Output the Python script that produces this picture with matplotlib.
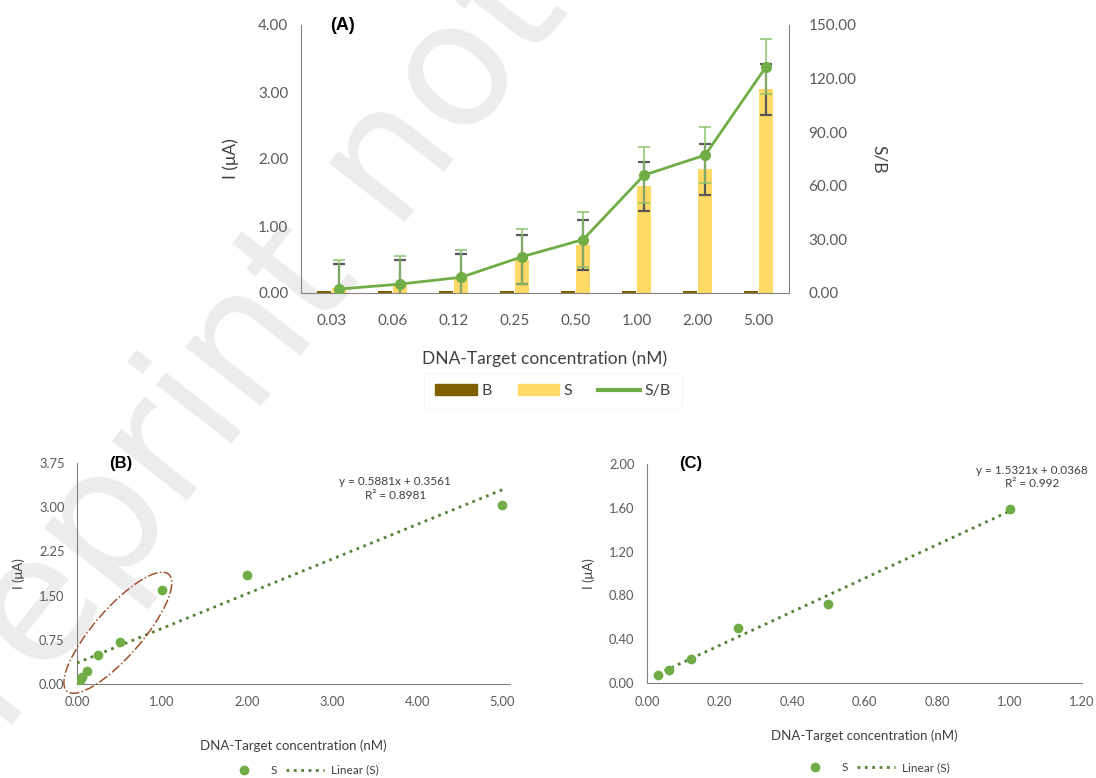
import matplotlib
matplotlib.use('Agg')
import matplotlib.pyplot as plt
import numpy as np
from matplotlib.patches import Ellipse, Patch
from matplotlib.lines import Line2D
from matplotlib.transforms import ScaledTranslation

plt.rcParams['font.family'] = ['Lato', 'DejaVu Sans']

# data
conc_labels = ['0.03', '0.06', '0.12', '0.25', '0.50', '1.00', '2.00', '5.00']
conc = [0.03, 0.06, 0.12, 0.25, 0.50, 1.00, 2.00, 5.00]
blank = [0.024, 0.024, 0.024, 0.024, 0.024, 0.024, 0.024, 0.024]
signal = [0.07, 0.12, 0.22, 0.50, 0.72, 1.59, 1.85, 3.04]
signal_err = [0.37, 0.37, 0.36, 0.37, 0.37, 0.37, 0.38, 0.38]
ratio = [2.2, 5.0, 8.8, 20.3, 29.9, 66.0, 77.2, 126.7]
ratio_err = [16.4, 15.5, 15.5, 15.5, 15.5, 15.6, 15.5, 15.5]

fit_all = (0.5881, 0.3561)
r2_all = 0.8981
fit_low = (1.5321, 0.0368)
r2_low = 0.992
n_low = 6  # points up to 1.00 nM used in (C)

C_B = '#7f6000'
C_S = '#ffd966'
C_SB = '#70ad47'
C_FIT = '#548235'
TICK = '#595959'
LAB = '#404040'
SPINE = '#808080'

fig = plt.figure(figsize=(10.96, 7.78), dpi=100)

# faint watermark behind everything
fig.text(-0.054, -0.05, 'Preprint not peer reviewed', fontsize=125,
         color='#ececec', rotation=52, rotation_mode='anchor',
         ha='left', va='baseline', family='DejaVu Sans', zorder=-5)


def style_axes(ax, fs, pad):
    ax.patch.set_alpha(0)
    for s in ['top', 'right']:
        ax.spines[s].set_visible(False)
    for s in ['left', 'bottom']:
        ax.spines[s].set_color(SPINE)
    ax.tick_params(length=0, labelsize=fs, labelcolor=TICK, pad=pad)


# ---------- (A) ----------
ax = fig.add_axes([301 / 1096, 1 - 293 / 778, 488 / 1096, 268 / 778])
style_axes(ax, 11, 9)
ax.tick_params(axis='x', pad=15)
xs = np.arange(len(conc_labels))
w = 0.23
off = 0.125
ax.bar(xs - off, blank, w, color=C_B, zorder=2)
ax.bar(xs + off, signal, w, color=C_S, zorder=2)
ax.errorbar(xs + off, signal, yerr=signal_err, fmt='none', ecolor='#595959',
            elinewidth=1.6, capsize=4, capthick=1.6, zorder=3)
ax.set_ylim(0, 4)
ax.set_yticks([0, 1, 2, 3, 4])
ax.set_yticklabels([f'{v:.2f}' for v in [0, 1, 2, 3, 4]])
ax.set_xlim(-0.5, len(xs) - 0.5)
ax.set_xticks(xs)
ax.set_xticklabels(conc_labels)
ax.set_ylabel('I (μA)', fontsize=12.5, color=LAB, labelpad=14)
ax.set_xlabel('DNA-Target concentration (nM)', fontsize=12.5, color=LAB, labelpad=16)

ax2 = ax.twinx()
ax2.patch.set_alpha(0)
for s in ['top', 'left', 'bottom']:
    ax2.spines[s].set_visible(False)
ax2.spines['right'].set_color(SPINE)
ax2.tick_params(length=0, labelsize=11, labelcolor=TICK, pad=14)
ax2.errorbar(xs + off, ratio, yerr=ratio_err, fmt='none', ecolor='#8cc46a',
             elinewidth=1.1, capsize=4, capthick=1.1, zorder=3)
ax2.plot(xs + off, ratio, color=C_SB, lw=2, marker='o', ms=7, zorder=4)
ax2.set_ylim(0, 150)
ax2.set_yticks([0, 30, 60, 90, 120, 150])
ax2.set_yticklabels([f'{v:.2f}' for v in [0, 30, 60, 90, 120, 150]])
ax2.set_ylabel('S/B', fontsize=12.5, color=LAB, rotation=270, labelpad=22)
ax2.set_xlim(-0.5, len(xs) - 0.5)

ax.text(0.086, 1.0, '(A)', transform=ax.transAxes, fontsize=13, fontweight='bold',
        family='Liberation Sans', ha='center', va='center')

handles = [Patch(color=C_B, label='B'), Patch(color=C_S, label='S'),
           Line2D([], [], color=C_SB, lw=3, label='S/B')]
leg = fig.legend(handles=handles, loc='center', bbox_to_anchor=(553 / 1096, 1 - 391 / 778),
                 ncol=3, fontsize=11.5, frameon=True, handlelength=2.6,
                 handletextpad=0.3, columnspacing=1.6, borderpad=0.7)
leg.get_frame().set_edgecolor('#f3f3f3')
leg.get_frame().set_linewidth(0.8)
for t in leg.get_texts():
    t.set_color(LAB)


# ---------- (B) and (C) ----------
def scatter_panel(rect, x, y, fit, r2, xlim, xticks, ylim, yticks, tag, eq_xy,
                  fit_from_zero, xlabelpad, leg_y):
    a = fig.add_axes(rect)
    style_axes(a, 9.3, 9)
    a.plot(x, y, 'o', color=C_SB, ms=6, zorder=4, label='S')
    x0 = 0 if fit_from_zero else min(x)
    fx = np.array([x0, max(x)])
    a.plot(fx, fit[0] * fx + fit[1], ':', color=C_FIT, lw=2, zorder=3, label='Linear (S)')
    a.set_xlim(*xlim)
    a.set_ylim(*ylim)
    a.set_xticks(xticks)
    a.set_xticklabels([f'{v:.2f}' for v in xticks])
    a.set_yticks(yticks)
    a.set_yticklabels([f'{v:.2f}' for v in yticks])
    a.set_ylabel('I (μA)', fontsize=9.5, color=LAB, labelpad=10)
    a.set_xlabel('DNA-Target concentration (nM)', fontsize=9.5, color=LAB,
                  labelpad=xlabelpad)
    a.text(0.10, 1.0, tag, transform=a.transAxes, fontsize=12, fontweight='bold',
           family='Liberation Sans', ha='center', va='center')
    a.text(eq_xy[0], eq_xy[1], f'y = {fit[0]:.4f}x + {fit[1]:.4f}\nR² = {r2:g}',
           transform=a.transAxes, fontsize=8.5, color=LAB, ha='center', va='top',
           linespacing=1.25)
    lg = a.legend(loc='center', bbox_to_anchor=(0.52, leg_y), ncol=2, fontsize=8.5,
                  frameon=False, handlelength=3.2, handletextpad=0.6, columnspacing=0.8)
    for t in lg.get_texts():
        t.set_color(LAB)
    return a


axB = scatter_panel([77 / 1096, 1 - 684 / 778, 433 / 1096, 221 / 778], conc, signal,
                    fit_all, r2_all, (0, 5.09), [0, 1, 2, 3, 4, 5], (0, 3.75),
                    [0, 0.75, 1.5, 2.25, 3.0, 3.75], '(B)', (0.735, 0.94), True,
                    22, -0.39)
axC = scatter_panel([647 / 1096, 1 - 683 / 778, 435 / 1096, 219 / 778], conc[:n_low],
                    signal[:n_low], fit_low, r2_low, (0, 1.2),
                    [0, 0.2, 0.4, 0.6, 0.8, 1.0, 1.2], (0, 2.0),
                    [0, 0.4, 0.8, 1.2, 1.6, 2.0], '(C)', (0.885, 0.995), False,
                    16, -0.385)

# dash-dot ellipse around the low-concentration points in (B)
ell = Ellipse((0, 0), 1.55, 0.48, angle=49, fill=False, ls='-.', lw=1.1,
              edgecolor='#a0522d', clip_on=False, zorder=5,
              transform=fig.dpi_scale_trans + ScaledTranslation(0.48, 0.87, axB.transData))
axB.add_patch(ell)

fig.savefig('out.png', dpi=100)
